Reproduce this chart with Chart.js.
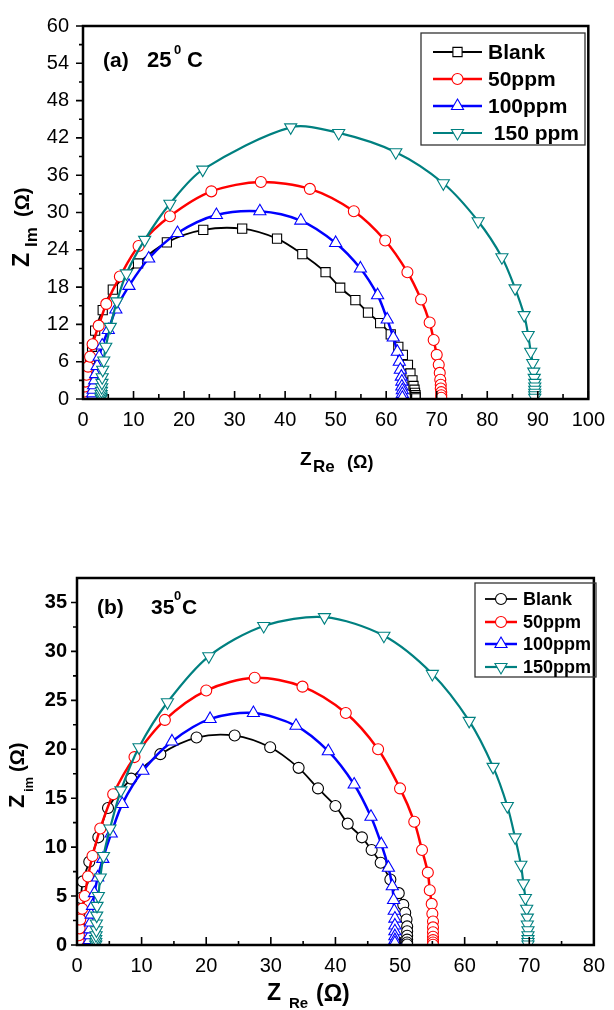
<!DOCTYPE html>
<html>
<head>
<meta charset="utf-8">
<script src="https://cdn.jsdelivr.net/npm/chart.js@4.4.0/dist/chart.umd.min.js"></script>
<style>
  body { margin: 0; background: #fff; }
  #wrap { position: relative; width: 614px; height: 1010px; }
  canvas { position: absolute; left: 0; }
  #chartA { top: 0; }
  #chartB { top: 500px; }
</style>
</head>
<body>
<div id="wrap">
  <canvas id="chartA" width="614" height="500"></canvas>
  <canvas id="chartB" width="614" height="510"></canvas>
</div>
<script>
// (a) 25 C  -- [Z_Re, Z_Im] pairs
const aBlank = [[0.6,0.1],[0.65,0.4],[0.7,1.0],[0.8,1.8],[0.9,3.0],[1.1,4.5],[1.4,6.4],[1.8,8.4],[2.4,11.0],[3.9,14.3],[5.9,17.6],[10.9,21.8],[16.6,25.2],[23.8,27.2],[31.5,27.4],[38.4,25.8],[43.4,23.3],[48.0,20.4],[50.9,17.9],[53.9,15.9],[56.4,13.9],[58.8,12.2],[60.9,10.4],[62.4,8.4],[63.3,7.1],[64.3,5.5],[64.8,4.1],[65.2,3.0],[65.4,2.1],[65.6,1.5],[65.7,1.0],[65.8,0.6],[65.8,0.3],[65.8,0.1]];
const a50 = [[0.2,0.1],[0.25,0.5],[0.3,1.2],[0.4,2.0],[0.5,2.8],[0.7,3.9],[1.0,5.2],[1.4,6.8],[1.9,8.8],[3.1,11.8],[4.6,15.3],[7.3,19.7],[11.0,24.6],[17.2,29.4],[25.4,33.4],[35.2,34.9],[44.9,33.8],[53.6,30.2],[59.8,25.5],[64.2,20.4],[66.9,16.0],[68.6,12.3],[69.4,9.5],[70.0,7.1],[70.4,5.5],[70.6,4.2],[70.7,3.1],[70.8,2.3],[70.8,1.7],[70.9,1.1],[70.9,0.6],[70.9,0.2]];
const a100 = [[1.8,0.1],[1.85,0.4],[1.9,0.9],[2.0,1.5],[2.1,2.2],[2.3,3.0],[2.5,4.0],[2.8,5.3],[3.2,6.8],[3.8,8.6],[5.0,11.1],[6.5,14.4],[9.1,18.2],[13.0,22.6],[18.7,26.7],[26.4,29.6],[35.0,30.2],[43.1,28.7],[50.0,25.1],[54.9,21.0],[58.3,16.7],[60.2,12.8],[61.4,9.9],[62.2,7.6],[62.6,6.0],[62.8,4.7],[63.0,3.6],[63.1,2.8],[63.1,2.0],[63.2,1.4],[63.2,0.8],[63.2,0.2]];
const a150 = [[3.6,0.1],[3.6,0.4],[3.6,0.8],[3.65,1.3],[3.7,1.9],[3.75,2.6],[3.8,3.5],[3.9,4.7],[4.1,6.2],[4.5,8.4],[5.4,11.6],[6.7,15.7],[8.6,20.2],[12.2,25.6],[17.2,31.4],[23.7,36.9],[41.1,43.7],[50.6,42.8],[61.9,39.7],[71.3,34.7],[78.2,28.6],[82.9,22.8],[85.5,17.8],[87.3,13.5],[88.1,10.3],[88.6,7.6],[89.0,5.8],[89.2,4.4],[89.3,3.4],[89.4,2.6],[89.4,2.0],[89.4,1.5],[89.4,1.0],[89.4,0.6],[89.4,0.2]];

// (b) 35 C
const bBlank = [[0.1,0.1],[0.15,0.6],[0.2,1.3],[0.3,2.2],[0.4,3.3],[0.6,4.8],[0.9,6.5],[1.9,8.5],[3.3,11.0],[4.8,14.0],[8.4,17.0],[12.9,19.5],[18.5,21.2],[24.4,21.4],[29.9,20.2],[34.3,18.1],[37.3,16.0],[40.0,14.2],[41.9,12.4],[44.1,11.0],[45.6,9.7],[47.0,8.4],[48.5,6.7],[49.8,5.3],[50.5,4.1],[50.8,3.3],[51.0,2.6],[51.1,1.9],[51.1,1.4],[51.1,0.95],[51.1,0.55],[51.1,0.25],[51.1,0.05]];
const b50 = [[0.2,0.1],[0.25,0.5],[0.3,1.0],[0.4,1.7],[0.5,2.6],[0.8,3.7],[1.2,5.0],[1.7,7.0],[2.4,9.1],[3.6,11.9],[5.6,15.4],[8.9,19.2],[13.6,23.0],[20.0,26.0],[27.5,27.3],[34.9,26.4],[41.6,23.7],[46.6,20.0],[50.0,16.0],[52.2,12.6],[53.4,9.7],[54.3,7.4],[54.6,5.6],[54.9,4.2],[55.0,3.2],[55.1,2.4],[55.1,1.8],[55.1,1.3],[55.1,0.85],[55.1,0.5],[55.1,0.25],[55.1,0.03]];
const b100 = [[1.9,0.1],[1.9,0.5],[2.0,1.0],[2.0,1.6],[2.1,2.3],[2.2,3.1],[2.4,4.0],[2.7,5.3],[3.2,6.9],[4.0,8.8],[5.3,11.4],[7.0,14.4],[10.2,17.8],[14.7,20.8],[20.6,23.1],[27.3,23.7],[33.9,22.4],[38.9,19.8],[42.9,16.4],[45.5,13.1],[47.1,10.3],[48.2,7.9],[48.8,6.0],[49.0,4.6],[49.1,3.5],[49.2,2.7],[49.2,2.0],[49.2,1.4],[49.2,0.9],[49.2,0.5],[49.2,0.2]];
const b150 = [[2.9,0.05],[2.9,0.3],[2.9,0.6],[2.95,1.0],[3.0,1.5],[3.0,2.2],[3.05,3.0],[3.1,4.0],[3.3,5.0],[3.6,6.9],[4.1,9.1],[5.1,11.9],[6.8,15.8],[9.6,20.2],[14.0,24.8],[20.4,29.5],[28.9,32.6],[38.3,33.5],[47.5,31.6],[55.0,27.7],[60.7,22.9],[64.4,18.2],[66.6,14.2],[67.8,11.0],[68.7,8.2],[69.1,6.3],[69.4,4.8],[69.6,3.7],[69.7,2.8],[69.7,2.1],[69.8,1.5],[69.8,1.0],[69.8,0.6],[69.8,0.3],[69.8,0.05]];

const legendA = ["Blank", "50ppm", "100ppm", " 150 ppm"];
const legendB = ["Blank", "50ppm", "100ppm", "150ppm"];
const xTicksA = [0, 10, 20, 30, 40, 50, 60, 70, 80, 90, 100];
const yTicksA = [0, 6, 12, 18, 24, 30, 36, 42, 48, 54, 60];
const xTicksB = [0, 10, 20, 30, 40, 50, 60, 70, 80];
const yTicksB = [0, 5, 10, 15, 20, 25, 30, 35];

const colors = ["#000000", "#ff0000", "#0000ff", "#008080"];
const FONT = '"Liberation Sans", Arial, sans-serif';

function toPoints(arr) {
    return arr.map(p => ({ x: p[0], y: p[1] }));
}

function makeDatasets(series, labels, blankStyle) {
    const styles = [
        { pointStyle: blankStyle, radius: blankStyle === "rect" ? 6.5 : 5.5, rot: 0, width: 1.8 },
        { pointStyle: "circle", radius: 5.5, rot: 0, width: 2.5 },
        { pointStyle: "triangle", radius: 7, rot: 0, width: 2.5 },
        { pointStyle: "triangle", radius: 7, rot: 180, width: 2.2 },
    ];
    return series.map((s, i) => ({
        label: labels[i],
        data: toPoints(s),
        showLine: true,
        tension: 0.3,
        borderColor: colors[i],
        borderWidth: styles[i].width,
        backgroundColor: "#ffffff",
        pointStyle: styles[i].pointStyle,
        pointRadius: styles[i].radius,
        pointRotation: styles[i].rot,
        pointBorderWidth: 1.1,
        pointBorderColor: colors[i],
        pointBackgroundColor: "#ffffff",
        order: 4 - i,
    }));
}

function drawRuns(ctx, x, y, angle, runs) {
    ctx.save();
    ctx.translate(x, y);
    ctx.rotate(angle);
    ctx.fillStyle = "#000";
    ctx.textAlign = "left";
    ctx.textBaseline = "alphabetic";
    runs.forEach(r => {
        ctx.font = r.f;
        ctx.fillText(r.t, r.x, r.y);
    });
    ctx.restore();
}

function makeDecor(cfg) {
    return {
        id: "decor",
        afterDraw(chart) {
            const ctx = chart.ctx;
            const area = chart.chartArea;
            const xs = chart.scales.x;
            const ys = chart.scales.y;
            ctx.save();
            ctx.strokeStyle = "#000";
            ctx.lineWidth = 1.6;
            ctx.beginPath();
            // x ticks point inward, y ticks point outward
            cfg.xTicks.forEach((v, i) => {
                const px = xs.getPixelForValue(v);
                ctx.moveTo(px, area.bottom);
                ctx.lineTo(px, area.bottom - cfg.xMajor);
                if (i < cfg.xTicks.length - 1) {
                    const mx = xs.getPixelForValue((v + cfg.xTicks[i + 1]) / 2);
                    ctx.moveTo(mx, area.bottom);
                    ctx.lineTo(mx, area.bottom - cfg.xMinor);
                }
            });
            cfg.yTicks.forEach((v, i) => {
                const py = ys.getPixelForValue(v);
                ctx.moveTo(area.left, py);
                ctx.lineTo(area.left - cfg.yMajor, py);
                const next = i < cfg.yTicks.length - 1 ? cfg.yTicks[i + 1] : null;
                if (next !== null) {
                    const my = ys.getPixelForValue((v + next) / 2);
                    ctx.moveTo(area.left, my);
                    ctx.lineTo(area.left - cfg.yMinor, my);
                }
            });
            ctx.stroke();

            ctx.lineWidth = 2.5;
            ctx.strokeRect(area.left, area.top, area.right - area.left, area.bottom - area.top);

            // legend
            const lg = cfg.legend;
            ctx.lineWidth = 1.3;
            ctx.strokeStyle = "#333";
            ctx.strokeRect(lg.box[0], lg.box[1], lg.box[2] - lg.box[0], lg.box[3] - lg.box[1]);
            chart.data.datasets.forEach((ds, i) => {
                const y = lg.rows[i];
                ctx.strokeStyle = ds.borderColor;
                ctx.lineWidth = ds.borderWidth;
                ctx.beginPath();
                ctx.moveTo(lg.line[0], y);
                ctx.lineTo(lg.line[1], y);
                ctx.stroke();
                ctx.fillStyle = "#fff";
                ctx.lineWidth = ds.pointBorderWidth;
                Chart.helpers.drawPoint(ctx, {
                    pointStyle: ds.pointStyle,
                    rotation: ds.pointRotation,
                    radius: ds.pointRadius,
                    borderWidth: ds.pointBorderWidth,
                }, (lg.line[0] + lg.line[1]) / 2, y);
                ctx.fillStyle = "#000";
                ctx.font = lg.font;
                ctx.textBaseline = "middle";
                ctx.textAlign = "left";
                ctx.fillText(ds.label, lg.textX, y + 1);
            });
            ctx.restore();

            cfg.texts.forEach(t => drawRuns(ctx, t.x, t.y, t.angle || 0, t.runs));
        },
    };
}

function makeChart(id, series, labels, blankStyle, xTicks, yTicks, yMax, geom, cfg) {
    return new Chart(document.getElementById(id), {
        type: "scatter",
        data: { datasets: makeDatasets(series, labels, blankStyle) },
        options: {
            responsive: false,
            animation: false,
            devicePixelRatio: 1,
            layout: { padding: { top: geom.top, right: geom.right, left: 0, bottom: 0 } },
            plugins: { legend: { display: false }, tooltip: { enabled: false } },
            scales: {
                x: {
                    type: "linear",
                    min: xTicks[0],
                    max: xTicks[xTicks.length - 1],
                    afterBuildTicks: s => { s.ticks = xTicks.map(v => ({ value: v })); },
                    afterFit: s => { s.height = geom.xHeight; },
                    grid: { display: false, drawTicks: false },
                    border: { display: false },
                    ticks: { autoSkip: false, maxRotation: 0, padding: geom.xPad, color: "#000",
                             font: { family: FONT, size: geom.xFont, weight: "normal" } },
                },
                y: {
                    type: "linear",
                    min: 0,
                    max: yMax,
                    afterBuildTicks: s => { s.ticks = yTicks.map(v => ({ value: v })); },
                    afterFit: s => { s.width = geom.yWidth; },
                    grid: { display: false, drawTicks: false },
                    border: { display: false },
                    ticks: { autoSkip: false, padding: geom.yPad, color: "#000",
                             font: { family: FONT, size: geom.yFont, weight: geom.yWeight } },
                },
            },
        },
        plugins: [makeDecor(cfg)],
    });
}

const B = "bold ";

makeChart("chartA", [aBlank, a50, a100, a150], legendA, "rect", xTicksA, yTicksA, 60,
    { top: 25, right: 20, xHeight: 101, yWidth: 83, xPad: 9, yPad: 14, xFont: 20, yFont: 20, yWeight: "normal" },
    {
        xTicks: xTicksA, yTicks: yTicksA, xMajor: 8, xMinor: 5, yMajor: 7, yMinor: 4,
        legend: { box: [421, 33, 585, 145], rows: [52, 79, 106, 133], line: [433, 482], textX: 488, font: B + "21px " + FONT },
        texts: [
            { x: 103, y: 67, runs: [
                { t: "(a)", f: B + "21px " + FONT, x: 0, y: 0 },
                { t: "25", f: B + "22px " + FONT, x: 44, y: 0 },
                { t: "0", f: B + "13px " + FONT, x: 71, y: -13 },
                { t: "C", f: B + "22px " + FONT, x: 84, y: 0 },
            ] },
            { x: 300, y: 465, runs: [
                { t: "Z", f: B + "19px " + FONT, x: 0, y: 0 },
                { t: "Re", f: B + "17px " + FONT, x: 13, y: 7 },
                { t: "(\u03A9)", f: B + "18px " + FONT, x: 47, y: 3 },
            ] },
            { x: 29, y: 267, angle: -Math.PI / 2, runs: [
                { t: "Z", f: B + "23px " + FONT, x: 0, y: 0 },
                { t: "Im", f: B + "17px " + FONT, x: 20, y: 8 },
                { t: "(\u03A9)", f: B + "20px " + FONT, x: 50, y: 0 },
            ] },
        ],
    });

makeChart("chartB", [bBlank, b50, b100, b150], legendB, "circle", xTicksB, yTicksB, 37.5,
    { top: 78, right: 12.5, xHeight: 65, yWidth: 77, xPad: 9, yPad: 10, xFont: 20, yFont: 20, yWeight: "bold" },
    {
        xTicks: xTicksB, yTicks: yTicksB, xMajor: 8, xMinor: 4, yMajor: 6, yMinor: 4,
        legend: { box: [475, 83, 596, 177], rows: [99, 122, 144, 167], line: [485, 517], textX: 523, font: B + "18px " + FONT },
        texts: [
            { x: 97, y: 114, runs: [
                { t: "(b)", f: B + "21px " + FONT, x: 0, y: 0 },
                { t: "35", f: B + "21px " + FONT, x: 54, y: 0 },
                { t: "0", f: B + "13px " + FONT, x: 77, y: -14 },
                { t: "C", f: B + "21px " + FONT, x: 85, y: 0 },
            ] },
            { x: 267, y: 500, runs: [
                { t: "Z", f: B + "23px " + FONT, x: 0, y: 0 },
                { t: "Re", f: B + "15px " + FONT, x: 22, y: 8 },
                { t: "(\u03A9)", f: B + "23px " + FONT, x: 49, y: 1 },
            ] },
            { x: 23.5, y: 308, angle: -Math.PI / 2, runs: [
                { t: "Z", f: B + "22px " + FONT, x: 0, y: 0 },
                { t: "im", f: B + "13px " + FONT, x: 16, y: 9 },
                { t: "(\u03A9)", f: B + "20px " + FONT, x: 36, y: 0 },
            ] },
        ],
    });
</script>
</body>
</html>
